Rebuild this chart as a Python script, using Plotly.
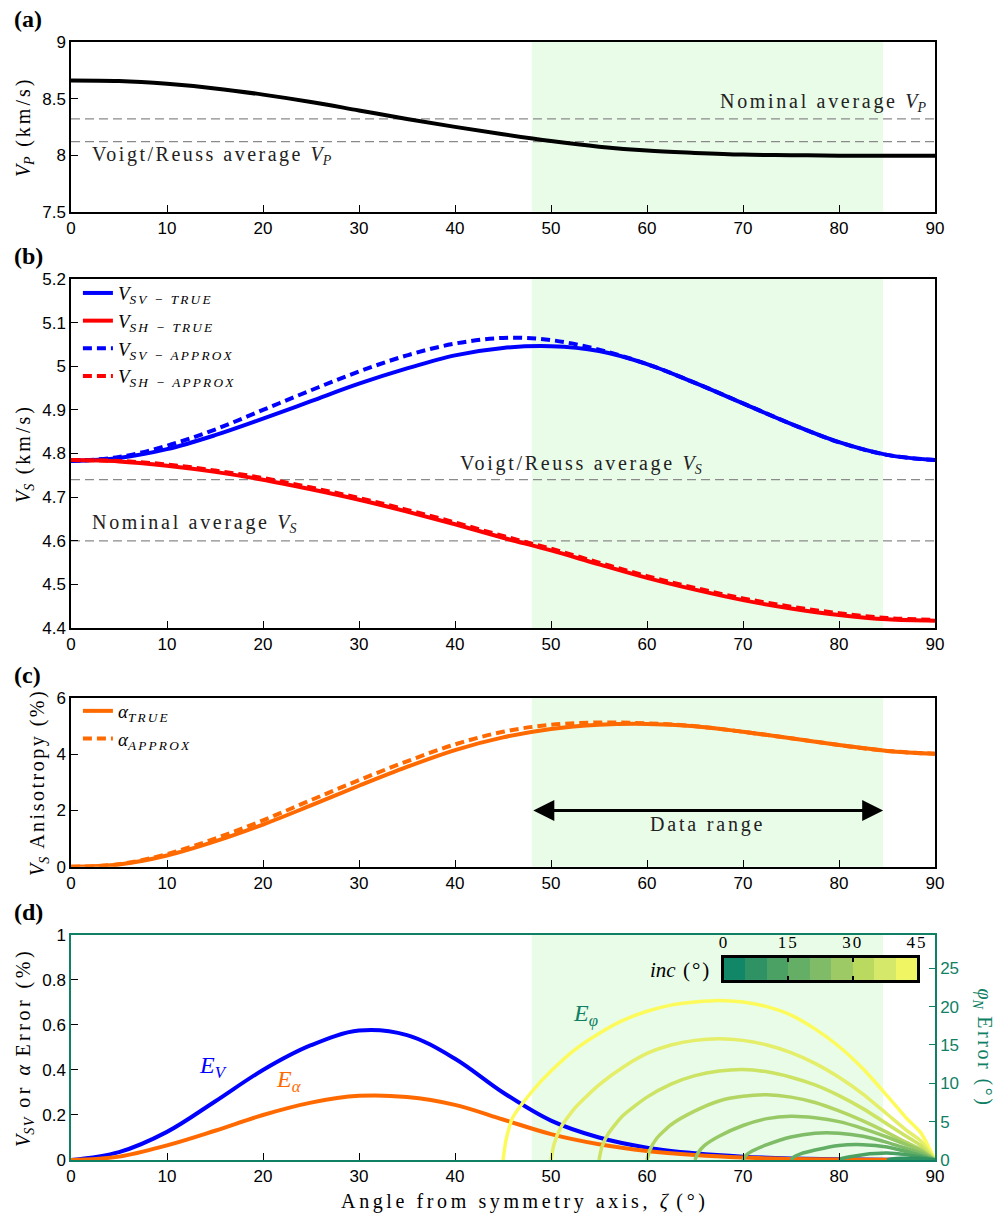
import plotly.graph_objects as go

# ---------------- data ----------------
ANG = [0, 5, 10, 15, 20, 25, 30, 35, 40, 45, 50, 55, 60, 65, 70, 75, 80, 85, 90]

VP = [8.66, 8.655, 8.63, 8.59, 8.535, 8.47, 8.395, 8.32, 8.25, 8.185, 8.125,
      8.075, 8.04, 8.02, 8.005, 8.0, 7.995, 7.995, 7.995]
VP_NOMINAL = 8.32
VP_VOIGT = 8.12

VSV_TRUE = [4.783, 4.790, 4.810, 4.842, 4.880, 4.920, 4.960, 4.995, 5.025, 5.042,
            5.046, 5.035, 5.005, 4.962, 4.915, 4.868, 4.826, 4.797, 4.785]
VSV_APPROX = [4.783, 4.792, 4.818, 4.855, 4.900, 4.945, 4.988, 5.025, 5.052, 5.065,
              5.060, 5.038, 5.005, 4.962, 4.915, 4.868, 4.826, 4.797, 4.785]
VSH_TRUE = [4.785, 4.782, 4.772, 4.758, 4.740, 4.718, 4.694, 4.667, 4.638, 4.607,
            4.578, 4.546, 4.515, 4.488, 4.464, 4.445, 4.430, 4.420, 4.417]
VSH_APPROX = [4.785, 4.783, 4.775, 4.761, 4.744, 4.722, 4.698, 4.671, 4.642, 4.611,
              4.582, 4.550, 4.519, 4.492, 4.468, 4.449, 4.434, 4.423, 4.419]
VS_VOIGT = 4.74
VS_NOMINAL = 4.60

ALPHA_TRUE = [0.0, 0.08, 0.40, 0.90, 1.50, 2.18, 2.88, 3.55, 4.15, 4.60, 4.90,
              5.05, 5.08, 5.00, 4.80, 4.57, 4.33, 4.12, 4.02]
ALPHA_APPROX = [0.0, 0.09, 0.45, 1.00, 1.65, 2.37, 3.08, 3.75, 4.35, 4.80, 5.05,
                5.13, 5.10, 5.00, 4.80, 4.57, 4.33, 4.12, 4.02]

E_V = [0.0, 0.035, 0.125, 0.26, 0.40, 0.51, 0.575, 0.555, 0.45, 0.30, 0.175,
       0.10, 0.055, 0.03, 0.015, 0.007, 0.003, 0.001, 0.0]
E_ALPHA = [0.0, 0.015, 0.065, 0.13, 0.20, 0.255, 0.285, 0.28, 0.245, 0.18, 0.115,
           0.07, 0.04, 0.022, 0.011, 0.005, 0.002, 0.001, 0.0]

DATA_RANGE = [48.0, 84.6]

# phi_N error arcs (right axis, degrees), one per inclination
PHI45_X = [45, 45.3, 46, 48, 50, 52.5, 55, 57.5, 60, 62.5, 65, 67.5, 70, 72.5, 75, 77.5, 80, 82.5, 85, 87, 88.5, 90]
PHI45_Y = [0, 2.5, 5.5, 8.9, 11.6, 14.4, 16.5, 18.2, 19.4, 20.2, 20.6, 20.8, 20.6, 20.0, 18.9, 17.1, 14.8, 11.9, 8.4, 5.5, 3.6, 0]
PHI50_X = [50, 50.3, 51, 52.5, 55, 57.5, 60, 62.5, 65, 67.5, 70, 72.5, 75, 77.5, 80, 82.5, 85, 87, 88.5, 90]
PHI50_Y = [0, 2.0, 4.2, 6.8, 9.8, 12.1, 13.9, 15.0, 15.6, 15.8, 15.6, 15.0, 14.0, 12.6, 10.8, 8.6, 6.0, 3.9, 2.5, 0]
PHI55_X = [55, 55.3, 56, 57.5, 60, 62.5, 65, 67.5, 70, 72.5, 75, 77.5, 80, 82.5, 85, 87, 88.5, 90]
PHI55_Y = [0, 1.7, 3.5, 5.8, 8.2, 9.9, 11.0, 11.6, 11.8, 11.5, 10.8, 9.8, 8.4, 6.7, 4.7, 3.1, 1.9, 0]
PHI60_X = [60, 60.3, 61, 62.5, 65, 67.5, 70, 72.5, 75, 77.5, 80, 82.5, 85, 87, 88.5, 90]
PHI60_Y = [0, 1.3, 2.8, 4.6, 6.4, 7.7, 8.3, 8.5, 8.2, 7.5, 6.4, 5.1, 3.6, 2.3, 1.4, 0]
PHI65_X = [65, 65.3, 66, 67.5, 70, 72.5, 75, 77.5, 80, 82.5, 85, 87, 88.5, 90]
PHI65_Y = [0, 0.9, 1.9, 3.1, 4.5, 5.4, 5.7, 5.5, 5.0, 4.1, 3.0, 2.0, 1.2, 0]
PHI70_X = [70, 70.3, 71, 72.5, 75, 77.5, 80, 82.5, 85, 87, 88.5, 90]
PHI70_Y = [0, 0.6, 1.2, 2.0, 3.0, 3.5, 3.5, 3.1, 2.3, 1.5, 0.9, 0]
PHI75_X = [75, 75.3, 76, 77.5, 80, 82.5, 85, 87, 88.5, 90]
PHI75_Y = [0, 0.4, 0.8, 1.3, 1.9, 2.0, 1.7, 1.1, 0.6, 0]
PHI80_X = [80, 80.3, 81, 82.5, 85, 87, 88.5, 90]
PHI80_Y = [0, 0.2, 0.4, 0.7, 0.9, 0.7, 0.4, 0]
PHI85_X = [85, 85.5, 86.5, 88, 89, 90]
PHI85_Y = [0, 0.12, 0.22, 0.22, 0.13, 0]

ARC_INC = [45, 40, 35, 30, 25, 20, 15, 10, 5]
ARC_COLORS = ["#fdfb5c", "#e4ee68", "#cce363", "#b3d563", "#97c866",
              "#7fbc68", "#63ae65", "#4aa162", "#2e9263"]

CB_INC = [2.5, 7.5, 12.5, 17.5, 22.5, 27.5, 32.5, 37.5, 42.5]
CB_COLORS = ["#128768", "#2e9264", "#4ba063", "#65ae65", "#80bb67",
             "#9dca64", "#bad95f", "#d6e869", "#eff563"]
INC_TICKS = [0, 15, 30, 45]

X_TICKS = [0, 10, 20, 30, 40, 50, 60, 70, 80, 90]

# ---------------- style ----------------
SERIF = "Liberation Serif"
SANS = "Liberation Sans"
TEAL = "#0f8064"
SHADE = "#e8fce8"
BLUE = "#0000ff"
RED = "#ff0000"
ORANGE = "#ff6a00"
GRAY = "#8a8a8a"
DASH = "9px,5px"
GDASH = "9px,5px"


def sp(s, ls=2.0):
    return f'<span style="letter-spacing:{ls}px">{s}</span>'


def mi(base, sub, ls=1.5):
    return f"<i>{base}</i><sub><i>{sp(sub, ls)}</i></sub>"


fig = go.Figure()

# ---- panel (a)
for v in (VP_NOMINAL, VP_VOIGT):
    fig.add_trace(go.Scatter(x=[0, 90], y=[v, v], mode="lines", xaxis="x", yaxis="y",
                             line=dict(color=GRAY, width=1.2, dash=GDASH), showlegend=False,
                             hoverinfo="skip"))
fig.add_trace(go.Scatter(x=ANG, y=VP, mode="lines", xaxis="x", yaxis="y",
                         line=dict(color="black", width=4, shape="spline", smoothing=1),
                         showlegend=False))

# ---- panel (b)
for v in (VS_VOIGT, VS_NOMINAL):
    fig.add_trace(go.Scatter(x=[0, 90], y=[v, v], mode="lines", xaxis="x2", yaxis="y2",
                             line=dict(color=GRAY, width=1.2, dash=GDASH), showlegend=False,
                             hoverinfo="skip"))
fig.add_trace(go.Scatter(x=ANG, y=VSV_TRUE, mode="lines", xaxis="x2", yaxis="y2",
                         name=mi("V", "SV − TRUE", 2.2), legend="legend",
                         line=dict(color=BLUE, width=4, shape="spline", smoothing=1)))
fig.add_trace(go.Scatter(x=ANG, y=VSH_TRUE, mode="lines", xaxis="x2", yaxis="y2",
                         name=mi("V", "SH − TRUE", 2.2), legend="legend",
                         line=dict(color=RED, width=4, shape="spline", smoothing=1)))
fig.add_trace(go.Scatter(x=ANG, y=VSV_APPROX, mode="lines", xaxis="x2", yaxis="y2",
                         name=mi("V", "SV − APPROX", 2.2), legend="legend",
                         line=dict(color=BLUE, width=4, dash=DASH, shape="spline", smoothing=1)))
fig.add_trace(go.Scatter(x=ANG, y=VSH_APPROX, mode="lines", xaxis="x2", yaxis="y2",
                         name=mi("V", "SH − APPROX", 2.2), legend="legend",
                         line=dict(color=RED, width=4, dash=DASH, shape="spline", smoothing=1)))

# ---- panel (c)
fig.add_trace(go.Scatter(x=ANG, y=ALPHA_TRUE, mode="lines", xaxis="x3", yaxis="y3",
                         name="<i>α</i><sub><i>" + sp("TRUE", 2.2) + "</i></sub>", legend="legend2",
                         line=dict(color=ORANGE, width=4, shape="spline", smoothing=1)))
fig.add_trace(go.Scatter(x=ANG, y=ALPHA_APPROX, mode="lines", xaxis="x3", yaxis="y3",
                         name="<i>α</i><sub><i>" + sp("APPROX", 2.2) + "</i></sub>", legend="legend2",
                         line=dict(color=ORANGE, width=4, dash=DASH, shape="spline", smoothing=1)))

# ---- panel (d)
fig.add_trace(go.Scatter(x=ANG, y=E_V, mode="lines", xaxis="x4", yaxis="y4", showlegend=False,
                         line=dict(color=BLUE, width=4, shape="spline", smoothing=1)))
fig.add_trace(go.Scatter(x=ANG, y=E_ALPHA, mode="lines", xaxis="x4", yaxis="y4", showlegend=False,
                         line=dict(color=ORANGE, width=4, shape="spline", smoothing=1)))

ARCS = [(PHI45_X, PHI45_Y), (PHI50_X, PHI50_Y), (PHI55_X, PHI55_Y), (PHI60_X, PHI60_Y),
        (PHI65_X, PHI65_Y), (PHI70_X, PHI70_Y), (PHI75_X, PHI75_Y), (PHI80_X, PHI80_Y),
        (PHI85_X, PHI85_Y)]
for (ax_, ay_), col in zip(ARCS, ARC_COLORS):
    fig.add_trace(go.Scatter(x=ax_, y=ay_, mode="lines", xaxis="x4", yaxis="y5", showlegend=False,
                             line=dict(color=col, width=3.5, shape="spline", smoothing=0.6)))

# colour bar for inclination
cscale = []
for k, c in enumerate(CB_COLORS):
    cscale.append([k / len(CB_COLORS), c])
    cscale.append([(k + 1) / len(CB_COLORS), c])
fig.add_trace(go.Heatmap(z=[CB_INC], x=CB_INC, y=[0.5], xaxis="x5", yaxis="y6",
                         zmin=0, zmax=45, colorscale=cscale, showscale=False, hoverinfo="skip"))

# ---------------- axes ----------------
tickfont = dict(family=SANS, size=17, color="black")
titlefont = dict(family=SERIF, size=20, color="black")


def xax(anchor, lc="black", title=None):
    d = dict(anchor=anchor, range=[0, 90], tickvals=X_TICKS, ticks="inside", ticklen=7,
             tickwidth=1.2, tickcolor="black", showline=True, linecolor=lc, linewidth=1.5,
             mirror=True, showgrid=False, zeroline=False, tickfont=tickfont, automargin=False)
    if title:
        d["title"] = dict(text=title, font=titlefont, standoff=24)
    return d


def yax(anchor, dom, rng, dtick, title, lc="black"):
    return dict(anchor=anchor, domain=dom, range=rng, dtick=dtick, ticks="inside", ticklen=7,
                tickwidth=1.2, tickcolor="black", showline=True, linecolor=lc, linewidth=1.5,
                mirror=True, showgrid=False, zeroline=False, tickfont=tickfont, automargin=False,
                title=dict(text=title, font=titlefont, standoff=6))


DOM_A = [0.8482, 1.0]
DOM_B = [0.4758, 0.7880]
DOM_C = [0.2623, 0.4132]
DOM_D = [0.0, 0.2013]

# the reference title sits slightly right of the axis centre: pad its left side
TITLE_PAD = '<span style="color:rgba(0,0,0,0);letter-spacing:4px">MM</span>'

fig.update_layout(
    width=996, height=1213,
    margin=dict(l=71, r=61, t=42, b=53),
    paper_bgcolor="white", plot_bgcolor="white",
    xaxis=xax("y"),
    xaxis2=xax("y2"),
    xaxis3=xax("y3"),
    xaxis4=xax("y4", lc=TEAL,
               title=TITLE_PAD + sp("Angle from symmetry axis, ", 3.6) + "<i>ζ</i>"
                     + sp(" (°)", 3.6)),
    yaxis=yax("x", DOM_A, [7.5, 9], 0.5, mi("V", "P") + sp(" (km/s)", 3)),
    yaxis2=yax("x2", DOM_B, [4.4, 5.2], 0.1, mi("V", "S") + sp(" (km/s)", 3)),
    yaxis3=yax("x3", DOM_C, [0, 6], 2, mi("V", "S") + sp(" Anisotropy (%)", 2.5)),
    yaxis4=yax("x4", DOM_D, [0, 1], 0.2,
               mi("V", "SV") + sp(" or ", 3.5) + "<i>α</i>" + sp(" Error (%)", 3.5), lc=TEAL),
    yaxis5=dict(anchor="x4", overlaying="y4", side="right", range=[0, 29.35],
                tickvals=[0, 5, 10, 15, 20, 25], ticks="inside", ticklen=6, tickwidth=1.2,
                tickcolor=TEAL, showline=True, linecolor=TEAL, linewidth=1.5, showgrid=False,
                zeroline=False, tickfont=dict(family=SANS, size=17, color=TEAL), automargin=False),
    xaxis5=dict(domain=[0.7558, 0.9792], anchor="y6", range=[0, 45], side="top",
                tickvals=INC_TICKS, ticktext=[sp(str(v), 2) for v in INC_TICKS], ticks="inside",
                ticklen=4, tickwidth=2, tickcolor="black", mirror="allticks", showline=True,
                linecolor="black", linewidth=2.5, showgrid=False, zeroline=False,
                tickfont=dict(family=SERIF, size=17, color="black"), automargin=False),
    yaxis6=dict(domain=[0.1610, 0.1807], anchor="x5", range=[0, 1], showticklabels=False,
                ticks="", showline=True, linecolor="black", linewidth=2.5, mirror=True,
                showgrid=False, zeroline=False, automargin=False),
    legend=dict(x=0.008, y=0.7924, xanchor="left", yanchor="top", bgcolor="rgba(0,0,0,0)",
                font=dict(family=SERIF, size=19, color="black"), tracegroupgap=0),
    legend2=dict(x=0.008, y=0.4186, xanchor="left", yanchor="top", bgcolor="rgba(0,0,0,0)",
                 font=dict(family=SERIF, size=19, color="black"), tracegroupgap=0),
)

# shaded data range in every panel
for xr, yr in (("x", "y"), ("x2", "y2"), ("x3", "y3"), ("x4", "y4")):
    fig.add_shape(type="rect", xref=xr, yref=yr + " domain", x0=DATA_RANGE[0], x1=DATA_RANGE[1],
                  y0=0, y1=1, fillcolor=SHADE, line=dict(width=0), layer="below")

ann = []
# panel letters
for lab, yp in (("(a)", 1.0206), ("(b)", 0.8086), ("(c)", 0.4338), ("(d)", 0.2218)):
    ann.append(dict(text="<b>" + lab + "</b>", xref="paper", yref="paper", x=-0.068, y=yp,
                    xanchor="left", yanchor="middle", showarrow=False,
                    font=dict(family=SERIF, size=24, color="black")))
sfont = dict(family=SERIF, size=20, color="#222222")
ann += [
    dict(text=sp("Nominal average ", 2.7) + mi("V", "P"), xref="x", yref="y", x=89.5, y=8.465,
         xanchor="right", yanchor="middle", showarrow=False, font=sfont),
    dict(text=sp("Voigt/Reuss average ", 2.5) + mi("V", "P"), xref="x", yref="y", x=2.0, y=8.0,
         xanchor="left", yanchor="middle", showarrow=False, font=sfont),
    dict(text=sp("Voigt/Reuss average ", 2.7) + mi("V", "S"), xref="x2", yref="y2", x=53.2,
         y=4.775, xanchor="center", yanchor="middle", showarrow=False, font=sfont),
    dict(text=sp("Nominal average ", 2.7) + mi("V", "S"), xref="x2", yref="y2", x=2.0, y=4.64,
         xanchor="left", yanchor="middle", showarrow=False, font=sfont),
    dict(text="", xref="x3", yref="y3", axref="x3", ayref="y3", x=DATA_RANGE[1], y=2.0,
         ax=DATA_RANGE[0], ay=2.0, showarrow=True, arrowhead=2, startarrowhead=2,
         arrowside="end+start", arrowsize=1.4, startarrowsize=1.4, arrowwidth=3,
         arrowcolor="black", standoff=0, startstandoff=0),
    dict(text=sp("Data range", 2.8), xref="x3", yref="y3", x=(DATA_RANGE[0] + DATA_RANGE[1]) / 2,
         y=1.49, xanchor="center", yanchor="middle", showarrow=False, font=sfont),
    dict(text="<i>E</i><sub><i>V</i></sub>", xref="x4", yref="y4", x=14.8, y=0.415,
         showarrow=False, font=dict(family=SERIF, size=24, color=BLUE)),
    dict(text="<i>E</i><sub><i>α</i></sub>", xref="x4", yref="y4", x=22.7, y=0.35,
         showarrow=False, font=dict(family=SERIF, size=24, color=ORANGE)),
    dict(text="<i>E</i><sub><i>φ</i></sub>", xref="x4", yref="y5", x=53.6, y=18.9,
         showarrow=False, font=dict(family=SERIF, size=24, color=TEAL)),
    dict(text="<i>inc</i>" + sp(" (°)", 2), xref="paper", yref="paper", x=0.743, y=0.170,
         xanchor="right", yanchor="middle", showarrow=False,
         font=dict(family=SERIF, size=21, color="black")),
    dict(text="<i>φ</i><sub><i>N</i></sub>" + sp(" Error (°)", 2.5), xref="paper",
         yref="y4 domain", x=1.0556, y=0.5, textangle=90, xanchor="center", yanchor="middle",
         showarrow=False, font=dict(family=SERIF, size=20, color=TEAL)),
]
fig.update_layout(annotations=ann)

fig.write_html("out.html")
